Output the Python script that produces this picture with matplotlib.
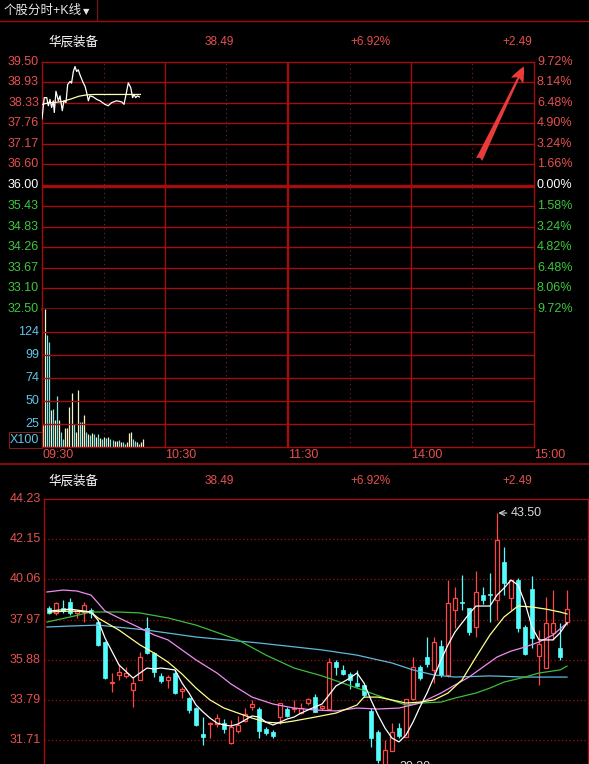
import matplotlib
matplotlib.use('Agg')
import matplotlib.pyplot as plt
from matplotlib.lines import Line2D
from matplotlib.patches import Rectangle, FancyArrowPatch
import numpy as np

plt.rcParams['font.family'] = ['Liberation Sans', 'Noto Sans CJK SC']

W, H = 589, 764

# ---------------- data ----------------
stock_name = '华辰装备'
last_price = '38.49'
change_pct = '+6.92%'
change_amt = '+2.49'
tab_title = '个股分时+K线'

# intraday price ladder (left) and percent ladder (right)
prev_close = 36.00
price_levels = [39.50, 38.93, 38.33, 37.76, 37.17, 36.60, 36.00,
                35.43, 34.83, 34.26, 33.67, 33.10, 32.50]
pct_labels = ['9.72%', '8.14%', '6.48%', '4.90%', '3.24%', '1.66%', '0.00%',
              '1.58%', '3.24%', '4.82%', '6.48%', '8.06%', '9.72%']
time_labels = ['09:30', '10:30', '11:30', '14:00', '15:00']
time_minutes = [0, 60, 120, 180, 240]

# intraday price (minutes after 09:30)
minute_t = [0, 1.1, 2.3, 3.1, 3.9, 4.7, 5.5, 6.0, 6.8, 8.0,
            8.8, 9.9, 10.7, 11.7, 12.5, 13.7, 14.4, 15.3, 16.1, 16.9,
            17.7, 18.5, 20.1, 21.0, 21.8, 22.6, 23.4, 25.0, 26.7, 28.3,
            30.7, 32.3, 34.0, 36.4, 38.9, 40.0, 41.0, 42.1, 43.3, 44.2,
            44.9, 45.7, 46.5, 47.5]
minute_price = [37.89, 38.49, 38.49, 38.26, 38.44, 38.21, 38.40, 38.07, 38.67, 38.40,
                38.54, 38.12, 38.40, 38.35, 38.86, 38.95, 38.90, 39.23, 39.37, 39.23,
                39.28, 39.14, 38.91, 38.81, 38.63, 38.40, 38.54, 38.51, 38.44, 38.40,
                38.30, 38.26, 38.35, 38.40, 38.37, 38.30, 38.58, 38.91, 38.77, 38.49,
                38.58, 38.49, 38.54, 38.51]
avg_t = [0, 3, 7, 10, 14, 18, 22, 26, 48]
avg_price = [38.30, 38.34, 38.36, 38.38, 38.45, 38.53, 38.57, 38.58, 38.58]

# per-minute volume (x100 lots) and up(1)/down(-1) flag
volume = [24, 149, 121, 113, 40, 41, 29, 55, 29, 16,
          9, 21, 21, 43, 58, 25, 16, 62, 27, 27,
          34, 16, 14, 13, 15, 14, 11, 14, 10, 9,
          11, 10, 11, 9, 8, 7, 7, 8, 5, 5,
          3, 5, 15, 16, 9, 6, 5, 3, 5, 9]
vol_dir = [1, 1, -1, -1, 1, -1, 1, -1, 1, -1,
           -1, 1, 1, 1, 1, -1, 1, 1, -1, 1,
           1, -1, 1, -1, 1, -1, 1, -1, 1, -1,
           1, -1, 1, -1, -1, 1, 1, -1, 1, -1,
           -1, 1, 1, 1, -1, -1, 1, -1, 1, 1]
vol_max = 148.8

# daily candles
k_open = [38.57, 38.31, 38.57, 38.88, 38.31, 38.36, 38.46, 37.84, 36.80, 34.67,
          35.09, 35.04, 34.31, 34.83, 37.53, 36.23, 35.04, 34.83, 35.19, 34.26,
          33.89, 33.37, 32.02, 32.54, 32.54, 32.59, 31.55, 32.18, 32.70, 33.43,
          33.32, 32.28, 32.13, 32.90, 33.32, 33.32, 33.11, 33.63, 33.94, 33.37,
          33.32, 35.76, 35.35, 35.14, 34.67, 34.57, 33.22, 32.13, 30.41, 31.14,
          32.33, 31.87, 33.84, 35.50, 36.02, 35.35, 36.59, 35.09, 38.46, 38.88,
          38.57, 37.58, 39.24, 39.27, 38.98, 40.96, 39.09, 40.02, 37.58, 39.55,
          36.07, 35.45, 37.27, 36.49, 37.84]
k_close = [38.31, 38.83, 38.41, 38.31, 38.41, 38.72, 38.31, 36.65, 34.93, 34.72,
           35.24, 35.19, 34.67, 36.02, 36.23, 35.24, 34.78, 34.98, 34.15, 34.36,
           33.27, 32.49, 31.87, 32.59, 32.85, 32.28, 32.39, 32.49, 33.06, 33.58,
           32.18, 32.07, 31.92, 33.63, 32.96, 33.37, 33.37, 33.84, 33.17, 33.48,
           35.76, 35.50, 35.14, 34.83, 34.52, 34.05, 31.81, 30.67, 31.19, 32.13,
           31.92, 33.84, 35.50, 34.93, 35.66, 36.80, 35.09, 38.83, 39.09, 38.83,
           37.32, 39.40, 38.98, 39.22, 42.10, 39.87, 40.02, 37.53, 36.18, 37.01,
           36.70, 37.79, 37.79, 36.02, 38.51]
k_high = [38.67, 38.88, 38.98, 39.09, 38.46, 38.88, 38.57, 37.94, 36.85, 35.19,
          35.66, 35.50, 34.98, 36.28, 38.10, 36.28, 35.19, 35.09, 35.35, 34.46,
          33.94, 33.43, 32.90, 32.64, 33.06, 32.80, 32.75, 32.96, 33.37, 33.79,
          33.43, 32.39, 32.23, 33.63, 33.43, 33.79, 33.63, 33.89, 34.10, 33.53,
          35.97, 35.87, 35.61, 35.24, 35.35, 34.57, 33.37, 32.23, 31.71, 32.59,
          32.59, 33.84, 36.02, 35.61, 37.06, 37.06, 36.91, 40.02, 39.66, 40.28,
          38.57, 40.49, 39.66, 40.39, 43.50, 41.74, 40.02, 40.12, 37.68, 40.23,
          37.42, 39.14, 39.50, 37.79, 39.50]
k_low = [38.26, 38.20, 38.31, 38.20, 38.05, 37.84, 38.05, 36.59, 34.88, 34.20,
         34.83, 34.93, 33.43, 34.83, 36.18, 34.98, 34.67, 34.41, 34.10, 33.89,
         33.11, 32.44, 31.45, 31.81, 32.39, 32.07, 31.50, 32.07, 32.64, 33.27,
         31.81, 31.97, 31.81, 32.54, 32.90, 33.17, 33.06, 33.53, 33.17, 33.27,
         33.27, 35.09, 35.09, 34.36, 34.46, 33.94, 31.35, 30.52, 30.30, 31.14,
         31.81, 31.87, 33.79, 34.83, 35.50, 34.67, 34.98, 34.98, 37.53, 38.46,
         37.17, 37.06, 38.80, 37.84, 37.94, 39.24, 38.46, 37.32, 36.12, 36.49,
         34.57, 35.45, 36.91, 35.87, 37.68]
kline_ticks = [44.23, 42.15, 40.06, 37.97, 35.88, 33.79, 31.71]

# moving averages (candle index, value)
ma5_i = [0, 3, 6, 7, 8, 10, 12, 13, 14, 15, 16, 17, 18, 19, 20, 21, 22, 23, 24, 25,
         26, 27, 28, 29, 30, 31, 32, 33, 34, 35, 36, 37, 38, 39, 40, 41, 42, 43, 44, 45,
         46, 47, 48, 49, 50, 51, 52, 53, 54, 55, 56, 57, 58, 59, 60, 61, 62, 63, 64, 65,
         66, 67, 68, 69, 70, 71, 72, 73, 74]
ma5_v = [38.41, 38.51, 38.36, 37.94, 37.01, 35.61, 34.93, 35.19, 35.45, 35.40, 35.45, 35.40, 35.35, 34.67, 34.15, 33.53, 33.17, 32.85, 32.59, 32.49,
         32.44, 32.54, 32.75, 32.96, 32.90, 32.64, 32.49, 32.64, 32.80, 32.90, 33.11, 33.27, 33.43, 33.58, 34.05, 34.52, 34.72, 34.93, 35.19, 34.67,
         33.79, 33.01, 32.33, 31.81, 31.61, 31.97, 32.64, 33.43, 34.15, 34.98, 35.87, 36.65, 37.32, 37.79, 38.26, 38.67, 38.67, 38.67, 39.24, 39.60,
         40.02, 39.76, 38.83, 37.58, 36.91, 36.91, 36.91, 37.27, 37.79]
ma10_i = [0, 3, 6, 7, 10, 13, 15, 17, 19, 21, 23, 25, 27, 29, 31, 33, 35, 38, 41, 44,
          45, 47, 49, 51, 53, 55, 57, 59, 61, 63, 65, 67, 69, 71, 73, 74]
ma10_v = [38.36, 38.41, 38.36, 38.05, 37.42, 36.65, 36.23, 35.76, 35.14, 34.41, 33.79, 33.37, 33.11, 32.85, 32.64, 32.59, 32.70, 32.90, 33.11, 33.53,
          33.94, 33.94, 33.79, 33.63, 33.68, 33.79, 34.15, 34.83, 36.02, 37.17, 38.10, 38.67, 38.62, 38.51, 38.36, 38.26]
ma20_i = [-0.3, 2, 4, 6, 7, 8, 10, 13, 15, 17, 19, 21, 24, 26, 29, 32, 35, 38, 41, 44,
          47, 50, 53, 56, 58, 60, 62, 64, 66, 68, 70, 72, 74]
ma20_v = [39.40, 39.50, 39.45, 39.24, 38.83, 38.41, 38.05, 37.53, 37.17, 36.91, 36.39, 35.87, 35.19, 34.62, 33.94, 33.58, 33.37, 33.27, 33.22, 33.37,
          33.32, 33.37, 33.63, 34.15, 34.57, 34.98, 35.50, 36.02, 36.33, 36.54, 36.80, 37.17, 37.79]
ma30_i = [-0.3, 3, 6, 10, 13, 17, 21, 25, 27, 31, 35, 39, 44, 48, 51, 53, 56, 58, 61, 63,
          65, 68, 70, 73, 74]
ma30_v = [37.84, 38.10, 38.36, 38.36, 38.31, 38.05, 37.68, 37.17, 36.91, 36.12, 35.45, 35.04, 34.41, 33.89, 33.53, 33.63, 33.68, 33.89, 34.15, 34.41,
          34.72, 34.98, 35.19, 35.35, 35.55]
ma60_i = [-0.3, 3, 7, 14, 21, 30, 39, 44, 49, 52, 55, 58, 63, 68, 74]
ma60_v = [37.58, 37.63, 37.68, 37.42, 37.06, 36.75, 36.39, 36.12, 35.71, 35.35, 35.09, 34.98, 35.04, 34.98, 34.98]

# ---------------- colours ----------------
GRID = '#a50d0d'
TXT_RED = '#e65050'
TXT_GREEN = '#3cc83c'
TXT_BLUE = '#62c4ec'
UP = '#ff4646'
DOWN = '#54fcfc'

fig = plt.figure(figsize=(W / 100, H / 100), dpi=100, facecolor='black')


def box(l, t, r, b):
    return [l / W, 1 - b / H, (r - l) / W, (b - t) / H]


def put(x, y, s, **kw):
    fig.text(x / W, 1 - y / H, s, **kw)


def style(ax):
    ax.set_facecolor('black')
    ax.set_xticks([])
    ax.set_yticks([])
    for s in ax.spines.values():
        s.set_color(GRID)
        s.set_linewidth(1)


# top tab bar
put(4, 11, tab_title, color='#e8e8e8', fontsize=9, va='center')
put(83, 12, '▼', color='#e8e8e8', fontsize=6, va='center', family=['DejaVu Sans'])
fig.add_artist(Line2D([0, 1], [1 - 21 / H] * 2, color=GRID, lw=1))
fig.add_artist(Line2D([97 / W] * 2, [1, 1 - 21 / H], color='#6a1a1a', lw=1))


def header(y):
    put(48, y, stock_name, color='white', fontsize=9, va='center')
    put(205, y, last_price, color=TXT_RED, fontsize=8.5, va='center')
    put(350, y, change_pct, color=TXT_RED, fontsize=8.5, va='center')
    put(502, y, change_amt, color=TXT_RED, fontsize=8.5, va='center')


header(42)

# ---------------- intraday price panel ----------------
ax1 = fig.add_axes(box(42, 62, 534, 309))
style(ax1)
ax1.set_xlim(0, 240)
ax1.set_ylim(price_levels[-1], price_levels[0])
ax1.spines['bottom'].set_linewidth(1.8)
for p in price_levels[1:-1]:
    ax1.axhline(p, color=GRID, lw=2.4 if p == prev_close else 1)

ax2 = fig.add_axes(box(42, 309, 534, 447))
style(ax2)
ax2.set_xlim(0, 240)
ax2.set_ylim(0, vol_max)
ax2.spines['top'].set_visible(False)

for ax in (ax1, ax2):
    for m in time_minutes[1:-1]:
        ax.axvline(m, color=GRID, lw=1.7 if m == 120 else 1)
    for m in [30, 90, 150, 210]:
        ax.axvline(m, color='#6e2a2a', lw=0.8, ls=(0, (1, 3)))

ax1.plot(minute_t, minute_price, color='white', lw=0.9, zorder=4)
ax1.plot(avg_t, avg_price, color='#ffffb4', lw=0.9, zorder=3)

for p, lab in zip(price_levels, pct_labels):
    if p > prev_close:
        c = TXT_RED
    elif p == prev_close:
        c = 'white'
    else:
        c = TXT_GREEN
    ax1.text(-0.006, p, f'{p:.2f}', transform=ax1.get_yaxis_transform(),
             ha='right', va='center', color=c, fontsize=9)
    ax1.text(1.006, p, lab, transform=ax1.get_yaxis_transform(),
             ha='left', va='center', color=c, fontsize=9)

# red arrow pointing at the upper limit
fig.add_artist(FancyArrowPatch(posA=(478 / W, 1 - 162 / H), posB=(525 / W, 1 - 64 / H),
                               transform=fig.transFigure,
                               arrowstyle='fancy,head_length=0.7,head_width=0.6,tail_width=0.3',
                               mutation_scale=16, color='#ea3b3b', lw=0))

# volume bars
vt = np.arange(len(volume)) + 0.4
vcol = ['#f4f4c8' if d > 0 else '#7de6e6' for d in vol_dir]
ax2.vlines(vt, 0, np.minimum(volume, vol_max), colors=vcol, lw=0.9)
for k in range(1, 6):
    v = k * vol_max / 6
    ax2.axhline(v, color=GRID, lw=1)
    ax2.text(-0.006, v, f'{v:.0f}', transform=ax2.get_yaxis_transform(),
             ha='right', va='center', color=TXT_BLUE, fontsize=9)
put(39, 440, 'X100', color=TXT_BLUE, fontsize=9, ha='right', va='center')
fig.add_artist(Rectangle((9 / W, 1 - 448 / H), 33 / W, 16 / H, transform=fig.transFigure,
                         fill=False, edgecolor='#7a2020', lw=0.8))

for m, lab in zip(time_minutes, time_labels):
    ax2.text(m, -0.06, lab, transform=ax2.get_xaxis_transform(), ha='left', va='center',
             color=TXT_RED, fontsize=9)

fig.add_artist(Line2D([0, 1], [1 - 464 / H] * 2, color=GRID, lw=1.2))

# ---------------- daily K-line panel ----------------
header(481)
ax3 = fig.add_axes(box(44, 499, 588, 764))
style(ax3)
ax3.spines['bottom'].set_visible(False)
ax3.set_xlim(-0.714, 77.0)
ax3.set_ylim(30.464, kline_ticks[0])
for p in kline_ticks:
    if p != kline_ticks[0]:
        ax3.axhline(p, color=GRID, lw=0.9, ls=(0, (1, 2)))
    ax3.text(-0.006, p, f'{p:.2f}', transform=ax3.get_yaxis_transform(),
             ha='right', va='center', color=TXT_RED, fontsize=9)

o = np.array(k_open)
c = np.array(k_close)
hi = np.array(k_high)
lo = np.array(k_low)
x = np.arange(len(o))
up = c >= o
body_lo = np.minimum(o, c)
body_h = np.maximum(np.abs(c - o), 0.03)

ax3.vlines(x[up], lo[up], hi[up], color=UP, lw=0.9, zorder=2)
ax3.vlines(x[~up], lo[~up], hi[~up], color=DOWN, lw=0.9, zorder=2)
ax3.bar(x[up], body_h[up], bottom=body_lo[up], width=0.68, facecolor='black',
        edgecolor=UP, lw=0.9, zorder=2.5)
ax3.bar(x[~up], body_h[~up], bottom=body_lo[~up], width=0.68, facecolor=DOWN,
        edgecolor=DOWN, lw=0.5, zorder=2.5)

ax3.plot(ma60_i, ma60_v, color='#62b8dc', lw=0.9, zorder=3)
ax3.plot(ma30_i, ma30_v, color='#3cbc3c', lw=0.9, zorder=3)
ax3.plot(ma20_i, ma20_v, color='#f08cf0', lw=0.9, zorder=3)
ax3.plot(ma10_i, ma10_v, color='#ffff8c', lw=0.9, zorder=3)
ax3.plot(ma5_i, ma5_v, color='white', lw=0.9, zorder=3)

# highest / lowest markers
hi_i = int(np.argmax(hi))
ax3.annotate(f'{hi[hi_i]:.2f}', xy=(hi_i + 0.2, hi[hi_i]), xytext=(hi_i + 2.0, hi[hi_i]),
             color='#d8d8d8', fontsize=9, va='center',
             arrowprops=dict(arrowstyle='->', color='#d8d8d8', lw=0.8, shrinkA=1, shrinkB=0))
lo_i = int(np.argmin(lo))
ax3.annotate(f'{lo[lo_i]:.2f}', xy=(lo_i + 0.2, lo[lo_i]), xytext=(lo_i + 2.1, lo[lo_i]),
             color='#d8d8d8', fontsize=9, va='center', annotation_clip=False,
             arrowprops=dict(arrowstyle='->', color='#d8d8d8', lw=0.8, shrinkA=1, shrinkB=0))

fig.savefig('out.png', dpi=100, facecolor='black')
